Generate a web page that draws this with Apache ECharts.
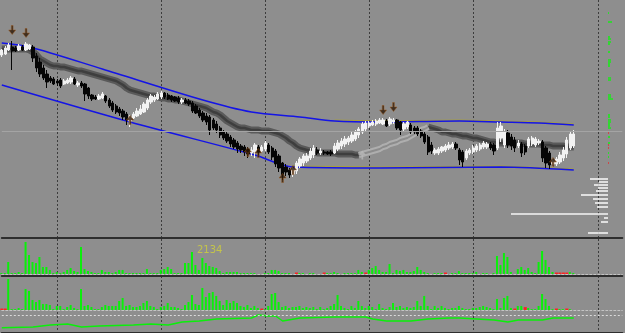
<!DOCTYPE html>
<html><head><meta charset="utf-8">
<script src="https://cdn.jsdelivr.net/npm/echarts@6/dist/echarts.min.js"></script>
<style>html,body{margin:0;padding:0;background:#8e8e8e;overflow:hidden}#c{width:625px;height:333px}</style>
</head><body><div id="c"></div><script>
// ---- data ----
const barCount = 180;                       // category slots incl. empty right shift area
const separators = [16, 46, 76, 106, 136, 172]; // period separator bars

const open  = [195,196,200,203,202,200,203,200,201,203,194,188,182,176,172,171,169,170,166,167,168,171,165,167,166,162,155,153,151,152,154,150,147,144,141,139,136,129,132,134,136,138,142,148,150,151,153,157,155,154,153,152,148,150,149,147,144,140,137,134,133,130,126,122,118,116,113,110,107,104,103,101,97,98,103,99,101,105,102,99,94,87,83,80,76,79,84,87,89,92,95,100,97,98,98,98,97,101,104,106,108,109,111,115,118,121,124,125,126,127,126,129,126,128,130,128,121,123,125,122,122,119,116,113,105,97,97,99,100,102,103,106,100,98,92,97,98,100,101,103,103,106,105,102,112,105,117,113,110,104,106,104,104,106,105,107,108,102,97,86,86,88,92,96,102,104];
const close = [200,202,205,199,199,204,200,206,205,192,182,176,172,168,169,166,167,164,169,170,172,166,167,164,156,154,151,151,154,156,149,144,140,138,137,133,130,133,136,139,141,146,150,154,153,156,157,153,151,150,149,148,150,147,146,139,137,134,130,128,120,122,120,115,112,109,106,103,101,100,98,96,100,105,98,103,107,98,93,86,82,75,78,75,81,87,91,94,94,99,102,97,99,97,96,96,104,107,109,111,112,115,118,121,126,127,127,128,129,130,130,124,131,130,122,120,126,128,118,118,116,114,108,98,99,100,101,103,104,105,106,102,90,88,99,100,102,104,105,107,106,102,99,122,124,118,105,104,102,107,97,98,111,112,111,109,92,87,85,89,91,95,100,110,116,116];
const low   = [193,195,199,180,198,199,199,199,200,188,178,173,170,162,167,165,164,162,165,166,166,165,163,162,149,151,149,150,150,151,147,142,138,136,134,130,125,123,131,133,135,137,140,146,148,150,151,151,150,148,148,146,146,146,144,137,136,132,128,125,115,120,117,112,110,107,103,101,97,97,94,92,94,92,95,97,99,96,90,83,78,70,74,72,73,76,82,84,87,90,92,95,95,95,95,94,96,99,101,103,105,107,109,112,116,119,122,124,124,126,125,123,124,126,120,115,119,121,116,116,114,112,106,95,96,95,95,97,98,100,101,100,85,83,90,95,96,98,99,101,101,100,95,100,108,102,102,100,98,102,93,95,102,104,103,105,88,82,81,83,84,86,89,92,100,102];
const high  = [201,204,207,209,204,206,205,208,206,205,197,192,185,180,174,173,171,172,171,172,174,173,169,169,167,163,156,155,156,158,155,152,149,146,143,141,138,135,138,142,145,148,152,156,155,158,159,158,157,155,154,154,152,152,151,149,146,142,139,137,135,132,129,124,120,118,115,112,109,106,105,103,103,107,105,105,109,107,104,101,96,88,86,82,83,89,93,96,97,102,105,103,102,100,99,100,107,110,112,114,114,118,120,123,128,129,129,130,131,132,132,131,133,132,131,129,128,129,127,124,124,121,118,115,108,102,103,104,106,108,108,108,102,100,101,102,105,106,107,109,108,108,107,128,128,121,120,116,113,110,108,106,113,114,113,111,110,104,99,92,93,98,103,113,119,120];

const ribbon = [201,201,201,201,201,201,201,201,200,198,195,191,189,187,185,184,184,183,183,182,181,180,179,179,178,177,176,175,174,173,172,171,170,169,167,165,162,160,159,158,157,156,155,154,154,153,152,152,151,151,150,150,149,148,147,146,145,144,143,142,140,138,137,135,132,129,127,125,123,122,122,121,120,120,120,119,119,119,118,117,116,114,112,109,107,104,102,101,100,99,98,97,97,97,97,97,97,96,96,96,96,96,95,95,96,97,98,99,100,101,103,104,106,107,108,110,111,112,114,116,118,120,121,123,122,121,120,118,118,117,116,116,115,114,114,113,112,112,111,110,109,108,108,107,107,107,107,107,107,107,107,106,106,106,106,106,105,105,105,104,104,104,104,103,103,103];
const ribbonLight = [103, 123];   // bar range where the ribbon turns light

const channelUpper = [[0,207],[8,203],[29,181],[58,150],[72,138],[86,133],[96,129],[109,128],[132,129],[144,128],[155,127],[165,125]];
const channelLower = [[0,165],[37,128],[73,95],[84,83],[109,82],[144,83],[165,80]];
const levelUpper = [[96,130],[109,129],[132,130],[144,129],[155,128],[165,126]];
const levelLower = [[84,84],[109,83],[144,84],[165,81]];
const bidPrice = 118.5;

const arrowsDown = [[3,220],[7,217],[110,140],[113,143]];
const arrowsUp = [[37,130],[71,98],[74,97],[81,72],[84,80],[159,88]];
const arrowsUpLight = [[104,95]];

const volume1 = [60,60,745,60,60,125,60,1985,1180,745,680,1055,435,435,250,60,125,60,125,250,370,185,125,1675,310,185,125,60,60,250,125,125,60,125,250,250,60,60,60,60,60,60,310,60,60,60,250,310,435,310,60,60,60,680,680,1365,560,250,990,680,495,435,370,185,60,125,125,125,125,60,60,60,60,60,0,0,60,60,250,250,185,60,60,60,0,0,60,60,0,60,60,0,0,0,60,60,125,60,0,60,60,60,60,250,125,0,250,370,495,250,125,125,620,60,250,185,250,125,125,185,435,250,125,60,0,60,60,60,0,0,60,60,185,60,60,60,60,125,0,60,60,0,60,1115,560,1300,1055,125,0,310,435,250,370,125,60,745,1425,870,435,125,0,0,0,0,125,60];
const volume1Down = [[85,90],[93,90],[105,90],[128,90],[160,90],[161,90],[162,90],[163,90]];
const volume1Max = 2134;
const volume2 = [0,0,1920,60,60,125,60,1300,1180,620,495,620,370,370,310,60,250,250,60,185,310,125,60,1300,250,310,185,60,60,185,310,250,250,250,560,745,250,310,185,185,250,435,560,250,185,60,185,250,435,185,185,125,60,310,495,930,370,310,1365,805,1055,1115,870,560,310,620,435,560,435,250,185,310,125,250,125,0,60,250,990,1055,495,185,250,125,185,185,250,125,185,125,185,60,185,60,125,250,370,930,250,125,60,250,125,560,250,125,250,185,60,370,125,60,185,435,185,250,125,185,125,185,560,250,870,250,60,250,125,250,125,60,125,125,250,125,60,60,125,125,185,250,185,125,60,680,125,745,870,125,0,250,250,0,125,60,60,250,990,680,250,60,0,60,60,0,60,0];
const volume2Down = [[0,90],[1,90],[75,90],[148,90],[151,180],[160,90],[163,90]];
const balance = [[0,5.3],[9,6],[14,8],[19,9],[23,6],[28,7],[38,8],[43,9],[48,8],[52,11],[57,12],[62,14],[72,15],[74,18],[77,17],[79,17],[81,12],[86,15],[96,16],[105,16],[107,14],[111,12],[118,12],[123,14],[129,15],[132,15],[142,13],[146,11],[149,13],[156,13],[159,15],[165,15]];
const balanceZero = 17.7;

// price-level histogram at the right edge: [length, price]
const profile = [[18,71],[9,68],[14,65],[10,62],[12,59],[27,55],[15,51],[13,47],[11,43],[97,36],[4,32],[7,28],[20,17]];
const ticksUp = [[-1,237],[-4,228],[-2,213],[-3,211],[-3,208],[-2,206],[-2,198],[-3,190],[-3,188],[-2,186],[-2,184],[-3,172],[-3,170],[-3,155],[-3,153],[-5,151],[-2,135],[-2,133],[-3,130],[-3,128],[-2,126],[-2,124],[-3,122],[-2,113],[-2,107],[-1,97],[-1,93]];
const ticksDown = [[-1,117],[-1,105],[-1,102],[-1,87]];

// ---- chart ----
const cats = Array.from({length: barCount}, (_, i) => String(i));
const candles = open.map((o, i) => [o, close[i], low[i], high[i]]);
const ribbonDark = ribbon.map((v, i) => (i > ribbonLight[0] && i < ribbonLight[1]) ? null : v);
const ribbonLite = ribbon.map((v, i) => (i >= ribbonLight[0] && i <= ribbonLight[1]) ? v : null);

const sepLine = {show: true, interval: (idx) => separators.includes(idx), lineStyle: {color: '#3c3c3c', type: [2, 2], width: 1}};
const plainX = (grid, extra) => Object.assign({
  type: 'category', data: cats, gridIndex: grid, boundaryGap: false,
  axisTick: {show: false}, axisLabel: {show: false}
}, extra);
const hideY = (grid, min, max, extra) => Object.assign({type: 'value', gridIndex: grid, min, max, show: false}, extra || {});

const arrowDown = 'path://M3,0 L5,0 L5,5 L8,5 L4,10 L0,5 L3,5 Z';
const arrowUp = 'path://M4,0 L8,5 L5,5 L5,10 L3,10 L3,5 L0,5 Z';

const profileItem = (h) => function (params, api) {
  const a = api.coord([0, api.value(1)]);
  const b = api.coord([api.value(0), api.value(1)]);
  return {type: 'rect', shape: {x: Math.min(a[0], b[0]), y: a[1] - h / 2, width: Math.abs(b[0] - a[0]), height: h},
          style: {fill: api.visual('color')}};
};

const option = {
  animation: false,
  backgroundColor: '#8e8e8e',
  title: {text: String(volume1Max), left: 192, top: 240, textStyle: {fontSize: 10, fontWeight: 'normal', color: '#c4c44a', fontFamily: 'DejaVu Sans'}},
  grid: [
    {left: 1.8, top: 0, width: 620.5, height: 238},
    {left: 1.8, top: 239, width: 620.5, height: 35},
    {left: 1.8, top: 276, width: 620.5, height: 34},
    {left: 1.8, top: 312, width: 620.5, height: 21},
    {left: 500, top: 0, width: 112, height: 238}
  ],
  xAxis: [
    plainX(0, {axisLine: {show: true, lineStyle: {color: '#2e2e2e', width: 2}}, splitLine: sepLine}),
    plainX(1, {axisLine: {show: true, lineStyle: {color: '#c4c4c4', width: 1, type: [2, 2]}}, splitLine: sepLine}),
    plainX(2, {axisLine: {show: true, lineStyle: {color: '#c4c4c4', width: 1, type: [2, 2]}}, splitLine: sepLine}),
    plainX(2, {position: 'top', axisLine: {show: true, lineStyle: {color: '#2e2e2e', width: 2}}, splitLine: {show: false}}),
    plainX(3, {position: 'top', axisLine: {show: true, lineStyle: {color: '#2e2e2e', width: 2}}, splitLine: sepLine}),
    {type: 'value', gridIndex: 4, inverse: true, min: -4, max: 108, show: false}
  ],
  yAxis: [
    hideY(0, 12, 250),
    hideY(1, 0, 2170),
    hideY(2, 0, 2108),
    hideY(3, 0, 21),
    hideY(4, 12, 250)
  ],
  series: [
    {type: 'line', xAxisIndex: 0, yAxisIndex: 0, data: ribbonDark, symbol: 'none', z: 1,
     lineStyle: {color: '#5a5a5a', width: 7}},
    {type: 'line', xAxisIndex: 0, yAxisIndex: 0, data: ribbonDark, symbol: 'none', z: 1,
     lineStyle: {color: '#3e3e3e', width: 2.5}},
    {type: 'line', xAxisIndex: 0, yAxisIndex: 0, data: ribbonLite, symbol: 'none', z: 1,
     lineStyle: {color: '#aeaeae', width: 6}},
    {type: 'line', xAxisIndex: 0, yAxisIndex: 0, data: ribbonLite, symbol: 'none', z: 1,
     lineStyle: {color: '#8c8c8c', width: 2}},
    {type: 'line', xAxisIndex: 0, yAxisIndex: 0, data: levelUpper, symbol: 'none', z: 2,
     lineStyle: {color: '#a8a038', width: 1}},
    {type: 'line', xAxisIndex: 0, yAxisIndex: 0, data: levelLower, symbol: 'none', z: 2,
     lineStyle: {color: '#a8a038', width: 1}},
    {type: 'line', xAxisIndex: 0, yAxisIndex: 0, data: channelUpper, symbol: 'none', z: 2, smooth: 0.3,
     lineStyle: {color: '#1414e6', width: 1.5}},
    {type: 'line', xAxisIndex: 0, yAxisIndex: 0, data: channelLower, symbol: 'none', z: 2, smooth: 0.3,
     lineStyle: {color: '#1414e6', width: 1.5}},
    {type: 'candlestick', xAxisIndex: 0, yAxisIndex: 0, data: candles, barWidth: 2.8, z: 3, clip: false,
     itemStyle: {color: '#f2f2f2', color0: '#050505', borderColor: '#f2f2f2', borderColor0: '#050505', borderWidth: 1},
     markLine: {silent: true, symbol: 'none', label: {show: false},
                lineStyle: {color: '#a4a4a4', width: 1, type: 'solid'}, data: [{yAxis: bidPrice}]}},
    {type: 'scatter', xAxisIndex: 0, yAxisIndex: 0, data: arrowsDown, symbol: arrowDown, symbolSize: [7, 9], z: 4,
     itemStyle: {color: '#2a1606', borderColor: '#9a5a20', borderWidth: 0.6}},
    {type: 'scatter', xAxisIndex: 0, yAxisIndex: 0, data: arrowsUp, symbol: arrowUp, symbolSize: [7, 9], z: 4,
     itemStyle: {color: '#2a1606', borderColor: '#9a5a20', borderWidth: 0.6}},
    {type: 'scatter', xAxisIndex: 0, yAxisIndex: 0, data: arrowsUpLight, symbol: arrowUp, symbolSize: [7, 9], z: 4,
     itemStyle: {color: '#b8b8b8'}},
    {type: 'bar', xAxisIndex: 1, yAxisIndex: 1, data: volume1, barWidth: 2, itemStyle: {color: '#0af00a'}},
    {type: 'bar', xAxisIndex: 1, yAxisIndex: 1, data: volume1Down, barWidth: 3, barGap: '-100%', itemStyle: {color: '#ff2020'}},
    {type: 'bar', xAxisIndex: 2, yAxisIndex: 2, data: volume2, barWidth: 2, itemStyle: {color: '#0af00a'}},
    {type: 'bar', xAxisIndex: 2, yAxisIndex: 2, data: volume2Down, barWidth: 3, barGap: '-100%', itemStyle: {color: '#ff2020'}},
    {type: 'line', xAxisIndex: 4, yAxisIndex: 3, data: balance, symbol: 'none', lineStyle: {color: '#0af00a', width: 1.5},
     markLine: {silent: true, symbol: 'none', label: {show: false},
                lineStyle: {color: '#dcdcdc', width: 1, type: [2, 2]}, data: [{yAxis: balanceZero}]}},
    {type: 'custom', xAxisIndex: 5, yAxisIndex: 4, data: profile, encode: {x: 0, y: 1},
     renderItem: profileItem(1.6), itemStyle: {color: '#f4f4f4'}, z: 5},
    {type: 'custom', xAxisIndex: 5, yAxisIndex: 4, data: ticksUp, encode: {x: 0, y: 1},
     renderItem: profileItem(1.4), itemStyle: {color: '#10f010'}, z: 5},
    {type: 'custom', xAxisIndex: 5, yAxisIndex: 4, data: ticksDown, encode: {x: 0, y: 1},
     renderItem: profileItem(1.4), itemStyle: {color: '#e03030'}, z: 5}
  ]
};
const chart = echarts.init(document.getElementById('c'), null, {renderer: 'canvas'});
chart.setOption(option);
</script></body></html>
